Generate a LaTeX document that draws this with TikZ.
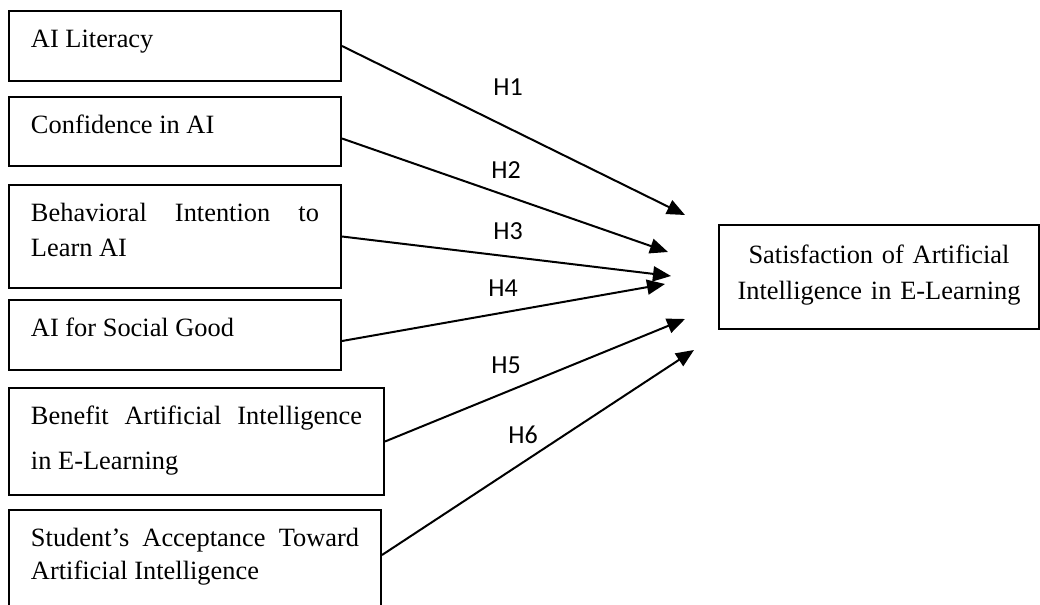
\documentclass[tikz,border=0pt]{standalone}
\usepackage{fontspec}
\setmainfont{Liberation Serif}
\newfontfamily\hfont{Carlito}
\usetikzlibrary{arrows.meta, positioning}

\begin{document}
\begin{tikzpicture}[
    x=0.5pt, y=-0.5pt,
    box/.style={rectangle, draw=black, line width=1pt, anchor=north west, text width=144pt, align=justify, inner xsep=11pt, inner ysep=0pt, text height=18pt, font=\fontsize{13.2}{17.5}\selectfont},
    target/.style={rectangle, draw=black, line width=1pt, anchor=north west, text width=150pt, align=center, inner xsep=5pt, inner ysep=0pt, text height=19pt, text depth=33pt, font=\fontsize{13.2}{18}\selectfont},
    hlabel/.style={font=\hfont\fontsize{13}{15}\selectfont},
    arrow/.style={line width=1pt, -{Triangle[length=9pt, width=7.5pt]}}
]
\useasboundingbox (0,0) rectangle (1040,605);
% independent variables
\node (lit) [box, text depth=17pt] at (8,10) {AI Literacy};
\node (conf) [box, text depth=16.5pt, below right=7pt and 0pt of lit.south west] {Confidence in AI};
\node (intent) [box, text depth=33.5pt, below right=8.5pt and 0pt of conf.south west] {Behavioral Intention to Learn AI};
\node (good) [box, text depth=17pt, below right=5pt and 0pt of intent.south west] {AI for Social Good};
\node (benefit) [box, text width=165.5pt, text depth=35.5pt, font=\fontsize{13.2}{22.5}\selectfont, below right=8pt and 0pt of good.south west] {Benefit Artificial Intelligence in E-Learning};
\node (accept) [box, text width=164pt, text depth=40pt, font=\fontsize{13.2}{16.5}\selectfont, below right=6.5pt and 0pt of benefit.south west] {Student’s Acceptance Toward Artificial Intelligence};
% dependent variable
\node (satis) [target] at (718,224) {Satisfaction of Artificial\\Intelligence in E-Learning};
% arrow tips
\coordinate (e1) at (685,215);
\coordinate (e2) at (668,252);
\coordinate (e3) at (671,276);
\coordinate (e4) at (665,284);
\coordinate (e5) at (685,319);
\coordinate (e6) at (694,350);
\draw [arrow] (lit.east) -- (e1);
\draw [arrow] ([yshift=-3.5pt]conf.east) -- (e2);
\draw [arrow] (intent.east) -- (e3);
\draw [arrow] ([yshift=-3pt]good.east) -- (e4);
\draw [arrow] (benefit.east) -- (e5);
\draw [arrow] ([yshift=6.5pt]accept.east) -- (e6);
% hypotheses
\node (h1) [hlabel] at (508,87) {H1};
\node (h2) [hlabel] at (506,170) {H2};
\node (h3) [hlabel] at (508,231) {H3};
\node (h4) [hlabel] at (503,288) {H4};
\node (h5) [hlabel] at (506,365) {H5};
\node (h6) [hlabel] at (523,435) {H6};
\end{tikzpicture}
\end{document}
